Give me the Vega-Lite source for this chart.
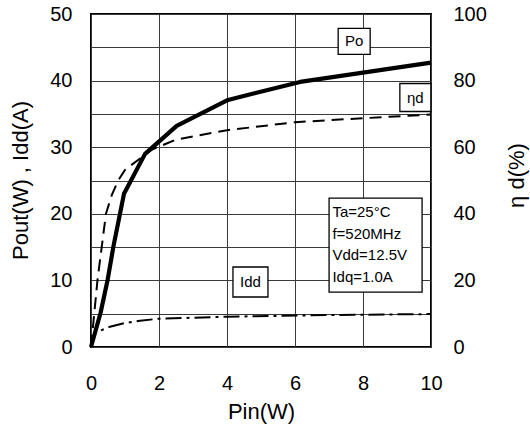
{
  "$schema": "https://vega.github.io/schema/vega-lite/v6.json",
  "width": 340,
  "height": 333,
  "autosize": "none",
  "padding": {"left": 91, "top": 14, "right": 99, "bottom": 79},
  "background": "white",
  "config": {
    "view": {"stroke": "black", "strokeWidth": 2},
    "axis": {
      "labelFont": "Liberation Sans",
      "titleFont": "Liberation Sans",
      "labelColor": "black",
      "titleColor": "black",
      "titleFontWeight": "normal",
      "labelFontSize": 20,
      "titleFontSize": 22,
      "ticks": false,
      "tickSize": 0,
      "domain": false,
      "labelFlush": false,
      "gridColor": "#3a3a3a",
      "gridWidth": 1,
      "gridOpacity": 1
    },
    "text": {"font": "Liberation Sans"}
  },
  "datasets": {
    "po": [
      {"pin": 0, "val": 0},
      {"pin": 0.28, "val": 5.1},
      {"pin": 0.49, "val": 10.1},
      {"pin": 0.66, "val": 15.1},
      {"pin": 0.97, "val": 23.0},
      {"pin": 1.59, "val": 29.0},
      {"pin": 2.52, "val": 33.2},
      {"pin": 4.03, "val": 37.1},
      {"pin": 6.15, "val": 39.8},
      {"pin": 10, "val": 42.7}
    ],
    "idd": [
      {"pin": 0, "val": 0},
      {"pin": 0.04, "val": 1.3},
      {"pin": 0.1, "val": 1.9},
      {"pin": 0.2, "val": 2.3},
      {"pin": 0.56, "val": 3.05},
      {"pin": 1.0, "val": 3.6},
      {"pin": 1.44, "val": 3.95},
      {"pin": 2.0, "val": 4.25},
      {"pin": 4.0, "val": 4.55},
      {"pin": 7.0, "val": 4.8},
      {"pin": 10, "val": 4.95}
    ],
    "eta": [
      {"pin": 0, "eff": 0},
      {"pin": 0.19, "eff": 20},
      {"pin": 0.44, "eff": 40},
      {"pin": 0.61, "eff": 45.6},
      {"pin": 0.8, "eff": 50},
      {"pin": 1.0, "eff": 53.2},
      {"pin": 1.78, "eff": 59.2},
      {"pin": 2.5, "eff": 62.3},
      {"pin": 4.0, "eff": 65.1},
      {"pin": 6.0, "eff": 67.5},
      {"pin": 8.0, "eff": 68.7},
      {"pin": 10, "eff": 69.8}
    ],
    "notes": [
      {"label": "Po", "pin": 7.74, "val": 45.9, "text": "Po"},
      {"label": "ηd", "pin": 9.54, "val": 37.46, "text": "ηd"},
      {"label": "Idd", "pin": 4.69, "val": 9.76, "text": "Idd"},
      {"label": "cond", "pin": 8.37, "val": 15.3, "text": ""},
      {"label": "condtext", "pin": 7.1, "val": 15.4, "text": "Ta=25°C\nf=520MHz\nVdd=12.5V\nIdq=1.0A"}
    ]
  },
  "encoding": {
    "x": {
      "field": "pin",
      "type": "quantitative",
      "scale": {"domain": [0, 10], "nice": false},
      "axis": {
        "values": [0, 2, 4, 6, 8, 10],
        "grid": true,
        "title": "Pin(W)",
        "labelPadding": 26,
        "titleY": 71,
        "titleBaseline": "alphabetic"
      }
    }
  },
  "layer": [
    {
      "encoding": {
        "y": {
          "field": "val",
          "type": "quantitative",
          "scale": {"domain": [0, 50], "nice": false},
          "axis": {
            "orient": "left",
            "values": [0, 5, 10, 15, 20, 25, 30, 35, 40, 45, 50],
            "labelExpr": "datum.value % 10 === 0 ? datum.label : ''",
            "grid": true,
            "title": "Pout(W) , Idd(A)",
            "labelPadding": 19,
            "titleAngle": -90,
            "titleX": -71,
            "titleY": 166,
            "titleAlign": "center",
            "titleBaseline": "middle"
          }
        }
      },
      "layer": [
        {
          "data": {"name": "po"},
          "mark": {"type": "line", "color": "black", "strokeWidth": 4.2, "strokeJoin": "round"}
        },
        {
          "data": {"name": "idd"},
          "mark": {"type": "line", "color": "black", "strokeWidth": 2, "strokeDash": [16, 5, 3, 5]}
        },
        {
          "data": {"name": "notes"},
          "transform": [{"filter": "datum.label === 'Po'"}],
          "mark": {"type": "point", "shape": "M-1,-0.8125H1V0.8125H-1Z", "size": 1024, "filled": true, "fill": "white", "stroke": "black", "strokeWidth": 1.3, "opacity": 1}
        },
        {
          "data": {"name": "notes"},
          "transform": [{"filter": "datum.label === 'ηd'"}],
          "mark": {"type": "point", "shape": "M-1,-0.903H1V0.903H-1Z", "size": 961, "filled": true, "fill": "white", "stroke": "black", "strokeWidth": 1.3, "opacity": 1}
        },
        {
          "data": {"name": "notes"},
          "transform": [{"filter": "datum.label === 'Idd'"}],
          "mark": {"type": "point", "shape": "M-1,-0.857H1V0.857H-1Z", "size": 1225, "filled": true, "fill": "white", "stroke": "black", "strokeWidth": 1.3, "opacity": 1}
        },
        {
          "data": {"name": "notes"},
          "transform": [{"filter": "datum.label === 'cond'"}],
          "mark": {"type": "point", "shape": "M-1,-1.011H1V1.011H-1Z", "size": 8649, "filled": true, "fill": "white", "stroke": "black", "strokeWidth": 1.3, "opacity": 1}
        },
        {
          "data": {"name": "notes"},
          "transform": [{"filter": "datum.label === 'Po' || datum.label === 'ηd' || datum.label === 'Idd'"}],
          "mark": {"type": "text", "fontSize": 15, "align": "center", "baseline": "middle", "color": "black"},
          "encoding": {"text": {"field": "text"}}
        },
        {
          "data": {"name": "notes"},
          "transform": [{"filter": "datum.label === 'condtext'"}],
          "mark": {"type": "text", "fontSize": 15, "align": "left", "baseline": "middle", "lineBreak": "\n", "lineHeight": 21.7, "dy": -32.5, "color": "black"},
          "encoding": {"text": {"field": "text"}}
        }
      ]
    },
    {
      "data": {"name": "eta"},
      "mark": {"type": "line", "color": "black", "strokeWidth": 2, "strokeDash": [12, 7]},
      "encoding": {
        "y": {
          "field": "eff",
          "type": "quantitative",
          "scale": {"domain": [0, 100], "nice": false},
          "axis": {
            "orient": "right",
            "values": [0, 20, 40, 60, 80, 100],
            "grid": false,
            "title": "η d(%)",
            "labelPadding": 22,
            "titleAngle": -90,
            "titleX": 85,
            "titleY": 161,
            "titleAlign": "center",
            "titleBaseline": "middle"
          }
        }
      }
    }
  ],
  "resolve": {"scale": {"y": "independent"}}
}
